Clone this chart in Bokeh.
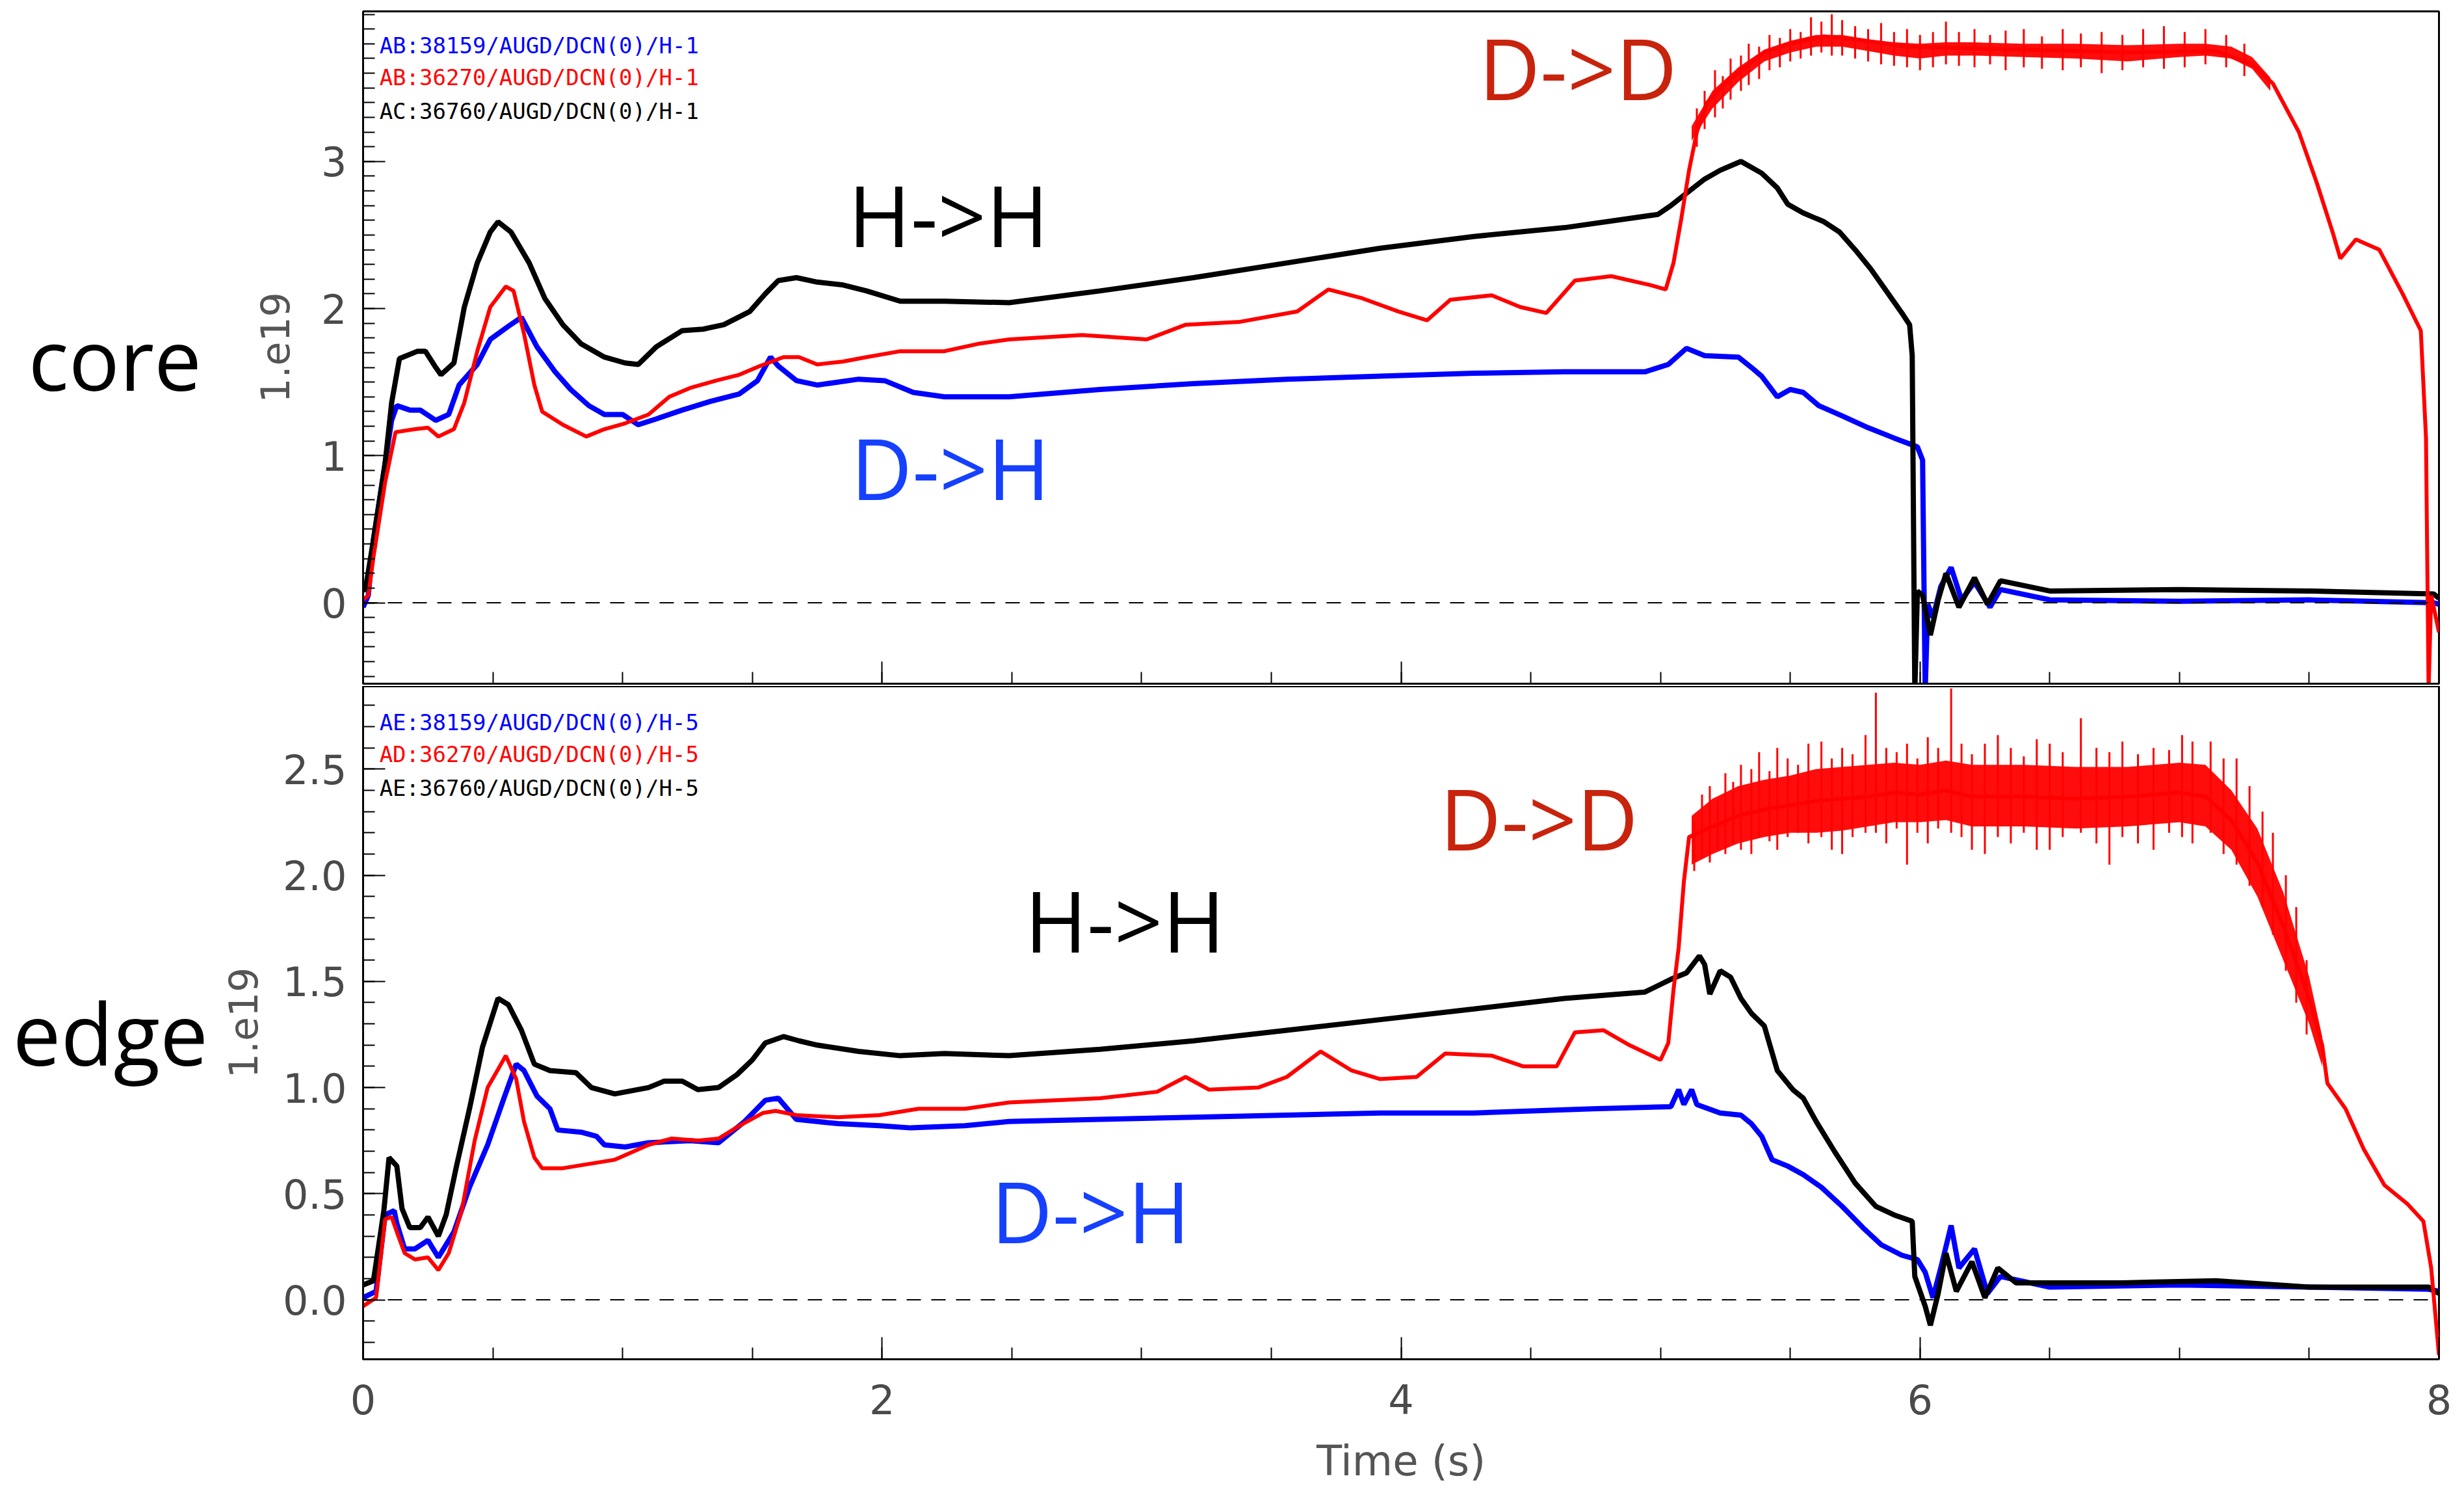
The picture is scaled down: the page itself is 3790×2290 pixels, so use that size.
from bokeh.plotting import figure
from bokeh.layouts import column, row
from bokeh.models import (Range1d, FixedTicker, Label, Span, PrintfTickFormatter,
                          CustomLabelingPolicy)
from bokeh.embed import file_html
from bokeh.resources import INLINE

# ---------------- data (units 1e19) ----------------
# CORE channel (H-1)
core_time_hh = [0.0, 0.01, 0.04, 0.085, 0.11, 0.14, 0.21, 0.24, 0.28, 0.30, 0.35, 0.39, 0.44, 0.49, 0.52,
                0.57, 0.64, 0.70, 0.77, 0.84, 0.93, 1.01, 1.06, 1.13, 1.23, 1.31, 1.39, 1.49, 1.55, 1.60,
                1.67, 1.75, 1.85, 1.94, 2.07, 2.24, 2.49, 2.84, 3.20, 3.56, 3.92, 4.28, 4.63, 4.99, 5.04,
                5.09, 5.17, 5.23, 5.31, 5.39, 5.45, 5.49, 5.55, 5.63, 5.69, 5.75, 5.81, 5.87, 5.93, 5.96,
                5.97, 5.98, 5.99, 6.01, 6.04, 6.07, 6.10, 6.15, 6.21, 6.26, 6.31, 6.50, 7.00, 7.50, 7.98, 8.0]
core_hh = [0.08, 0.10, 0.43, 0.95, 1.36, 1.66, 1.71, 1.71, 1.60, 1.55, 1.63, 2.01, 2.31, 2.52, 2.59,
           2.52, 2.31, 2.07, 1.89, 1.76, 1.67, 1.63, 1.62, 1.74, 1.85, 1.86, 1.89, 1.98, 2.10, 2.19,
           2.21, 2.18, 2.16, 2.12, 2.05, 2.05, 2.04, 2.12, 2.21, 2.31, 2.41, 2.49, 2.55, 2.64, 2.70,
           2.77, 2.88, 2.94, 3.00, 2.92, 2.82, 2.71, 2.65, 2.59, 2.52, 2.40, 2.27, 2.12, 1.97, 1.89,
           1.68, -0.6, 0.08, 0.05, -0.22, 0.02, 0.20, -0.03, 0.17, -0.01, 0.15, 0.08, 0.09, 0.08, 0.06, 0.03]

core_time_dd = [0.0, 0.02, 0.04, 0.085, 0.125, 0.20, 0.25, 0.29, 0.35, 0.39, 0.44, 0.49, 0.55, 0.58, 0.62,
                0.66, 0.69, 0.77, 0.86, 0.93, 1.01, 1.10, 1.18, 1.26, 1.36, 1.45, 1.53, 1.62, 1.68, 1.75,
                1.85, 1.94, 2.07, 2.24, 2.37, 2.49, 2.77, 3.02, 3.17, 3.38, 3.60, 3.72, 3.85, 3.99, 4.10,
                4.19, 4.35, 4.46, 4.56, 4.67, 4.81, 4.96, 5.02, 5.05, 5.08, 5.11, 5.14, 5.18, 5.25, 5.31,
                5.40, 5.50, 5.63, 5.75, 5.95, 6.15, 6.40, 6.80, 7.14, 7.28, 7.36, 7.46, 7.53, 7.59, 7.62,
                7.68, 7.77, 7.86, 7.93, 7.95, 7.96, 7.97, 8.0]
core_dd = [0.02, 0.05, 0.31, 0.82, 1.16, 1.18, 1.19, 1.13, 1.18, 1.36, 1.71, 2.01, 2.15, 2.12, 1.83,
           1.48, 1.30, 1.21, 1.13, 1.18, 1.22, 1.28, 1.40, 1.46, 1.51, 1.55, 1.61, 1.67, 1.67, 1.62,
           1.64, 1.67, 1.71, 1.71, 1.76, 1.79, 1.82, 1.79, 1.89, 1.91, 1.98, 2.13, 2.07, 1.98, 1.92,
           2.06, 2.09, 2.01, 1.97, 2.19, 2.22, 2.16, 2.13, 2.31, 2.61, 2.94, 3.20, 3.40, 3.53, 3.62,
           3.74, 3.80, 3.85, 3.83, 3.78, 3.77, 3.76, 3.74, 3.75, 3.66, 3.53, 3.20, 2.85, 2.52, 2.34,
           2.47, 2.40, 2.10, 1.85, 1.12, -0.6, 0.05, -0.2]

core_dd_band_t = [5.12, 5.2, 5.3, 5.4, 5.5, 5.6, 5.7, 5.8, 5.9, 6.0, 6.1, 6.2, 6.4, 6.6, 6.8, 7.0, 7.1, 7.2, 7.28, 7.35]
core_dd_band_hi = [3.24, 3.48, 3.64, 3.76, 3.82, 3.86, 3.86, 3.83, 3.81, 3.80, 3.81, 3.81, 3.80, 3.80, 3.79,
                   3.80, 3.80, 3.78, 3.71, 3.57]
core_dd_band_lo = [3.14, 3.36, 3.54, 3.68, 3.74, 3.78, 3.78, 3.75, 3.72, 3.70, 3.72, 3.72, 3.71, 3.70, 3.68,
                   3.71, 3.72, 3.70, 3.63, 3.48]
core_dd_spike_t = [5.14, 5.17, 5.21, 5.24, 5.27, 5.31, 5.34, 5.38, 5.42, 5.46, 5.50, 5.54, 5.58, 5.62,
                   5.66, 5.70, 5.75, 5.80, 5.85, 5.90, 5.95, 6.00, 6.05, 6.10, 6.15, 6.21, 6.27, 6.33,
                   6.40, 6.47, 6.55, 6.62, 6.70, 6.78, 6.86, 6.94, 7.02, 7.10, 7.18, 7.25]
core_dd_spike_hi = [3.36, 3.48, 3.62, 3.58, 3.70, 3.72, 3.80, 3.78, 3.86, 3.84, 3.90, 3.88, 3.98, 3.95,
                    4.00, 3.96, 3.92, 3.90, 3.94, 3.88, 3.90, 3.86, 3.88, 3.95, 3.88, 3.90, 3.86, 3.89,
                    3.90, 3.85, 3.90, 3.87, 3.88, 3.86, 3.90, 3.92, 3.88, 3.90, 3.86, 3.80]
core_dd_spike_lo = [3.10, 3.22, 3.30, 3.36, 3.42, 3.48, 3.52, 3.56, 3.62, 3.64, 3.68, 3.70, 3.72, 3.74,
                    3.72, 3.72, 3.70, 3.68, 3.66, 3.65, 3.64, 3.62, 3.64, 3.66, 3.65, 3.64, 3.66, 3.62,
                    3.64, 3.63, 3.62, 3.64, 3.60, 3.62, 3.64, 3.63, 3.64, 3.66, 3.64, 3.58]

core_time_dh = [0.0, 0.02, 0.04, 0.11, 0.13, 0.18, 0.22, 0.28, 0.33, 0.37, 0.44, 0.49, 0.56, 0.61, 0.67,
                0.74, 0.80, 0.87, 0.93, 1.00, 1.06, 1.13, 1.23, 1.34, 1.45, 1.52, 1.57, 1.60, 1.67, 1.75,
                1.91, 2.01, 2.12, 2.24, 2.49, 2.84, 3.20, 3.56, 3.92, 4.28, 4.63, 4.94, 5.03, 5.10, 5.17,
                5.30, 5.35, 5.39, 5.45, 5.50, 5.55, 5.61, 5.70, 5.80, 5.90, 5.99, 6.01, 6.02, 6.03, 6.05,
                6.08, 6.12, 6.16, 6.21, 6.27, 6.31, 6.50, 7.00, 7.50, 7.98, 8.0]
core_dh = [-0.03, 0.05, 0.43, 1.24, 1.34, 1.31, 1.31, 1.24, 1.28, 1.48, 1.62, 1.79, 1.88, 1.94, 1.74,
           1.57, 1.45, 1.34, 1.28, 1.28, 1.21, 1.25, 1.31, 1.37, 1.42, 1.51, 1.67, 1.61, 1.51, 1.48,
           1.52, 1.51, 1.43, 1.40, 1.40, 1.45, 1.49, 1.52, 1.54, 1.56, 1.57, 1.57, 1.62, 1.73, 1.68,
           1.67, 1.60, 1.54, 1.40, 1.45, 1.43, 1.34, 1.27, 1.19, 1.12, 1.06, 0.97, -0.6, -0.01, -0.10,
           0.11, 0.24, 0.02, 0.14, -0.03, 0.09, 0.02, 0.01, 0.02, 0.0, -0.01]

# EDGE channel (H-5)
edge_time_hh = [0.0, 0.04, 0.08, 0.10, 0.13, 0.15, 0.18, 0.22, 0.25, 0.29, 0.32, 0.36, 0.41, 0.46, 0.52,
                0.56, 0.61, 0.66, 0.72, 0.82, 0.88, 0.97, 1.10, 1.16, 1.23, 1.29, 1.37, 1.44, 1.50, 1.55,
                1.62, 1.68, 1.75, 1.91, 2.07, 2.24, 2.49, 2.84, 3.20, 3.56, 3.92, 4.28, 4.63, 4.94, 5.04,
                5.10, 5.15, 5.17, 5.19, 5.23, 5.27, 5.31, 5.35, 5.40, 5.45, 5.51, 5.55, 5.60, 5.67, 5.75,
                5.83, 5.90, 5.97, 5.98, 6.02, 6.04, 6.07, 6.10, 6.14, 6.20, 6.25, 6.30, 6.37, 6.78, 7.14,
                7.50, 7.96, 8.0]
edge_hh = [0.07, 0.09, 0.42, 0.67, 0.63, 0.43, 0.34, 0.34, 0.39, 0.30, 0.40, 0.63, 0.90, 1.19, 1.42,
           1.39, 1.27, 1.11, 1.08, 1.07, 1.00, 0.97, 1.00, 1.03, 1.03, 0.99, 1.00, 1.06, 1.13, 1.21,
           1.24, 1.22, 1.20, 1.17, 1.15, 1.16, 1.15, 1.18, 1.22, 1.27, 1.32, 1.37, 1.42, 1.45, 1.51,
           1.54, 1.62, 1.58, 1.44, 1.55, 1.52, 1.42, 1.35, 1.29, 1.08, 0.99, 0.95, 0.84, 0.70, 0.55,
           0.44, 0.40, 0.37, 0.11, -0.03, -0.12, 0.03, 0.22, 0.04, 0.18, 0.01, 0.15, 0.08, 0.08, 0.09,
           0.06, 0.06, 0.03]

edge_time_dd = [0.0, 0.05, 0.085, 0.11, 0.13, 0.16, 0.20, 0.25, 0.29, 0.33, 0.38, 0.43, 0.48, 0.55, 0.59,
                0.62, 0.66, 0.69, 0.77, 0.87, 0.97, 1.10, 1.19, 1.29, 1.37, 1.45, 1.54, 1.59, 1.67, 1.83,
                1.99, 2.14, 2.32, 2.49, 2.84, 3.06, 3.17, 3.26, 3.45, 3.56, 3.69, 3.81, 3.92, 4.06, 4.17,
                4.35, 4.47, 4.60, 4.67, 4.78, 4.88, 5.00, 5.03, 5.05, 5.07, 5.09, 5.11, 5.20, 5.30, 5.40,
                5.50, 5.60, 5.70, 5.80, 5.90, 6.00, 6.10, 6.20, 6.40, 6.60, 6.80, 7.00, 7.10, 7.20, 7.30,
                7.40, 7.50, 7.55, 7.57, 7.64, 7.71, 7.79, 7.88, 7.94, 7.97, 8.0]
edge_dd = [-0.03, 0.01, 0.38, 0.39, 0.32, 0.22, 0.19, 0.20, 0.14, 0.22, 0.42, 0.75, 1.00, 1.15, 1.04,
           0.84, 0.67, 0.62, 0.62, 0.64, 0.66, 0.73, 0.76, 0.75, 0.76, 0.82, 0.88, 0.89, 0.87, 0.86,
           0.87, 0.90, 0.90, 0.93, 0.95, 0.98, 1.05, 0.99, 1.00, 1.05, 1.17, 1.08, 1.04, 1.05, 1.16,
           1.15, 1.10, 1.10, 1.26, 1.27, 1.20, 1.13, 1.21, 1.46, 1.66, 1.97, 2.18, 2.23, 2.28, 2.31,
           2.33, 2.35, 2.36, 2.37, 2.39, 2.38, 2.40, 2.37, 2.37, 2.36, 2.37, 2.39, 2.37, 2.26, 2.06,
           1.76, 1.42, 1.20, 1.02, 0.90, 0.71, 0.54, 0.45, 0.37, 0.15, -0.26]

edge_dd_band_t = [5.12, 5.2, 5.3, 5.4, 5.5, 5.6, 5.7, 5.8, 5.9, 6.0, 6.1, 6.2, 6.4, 6.6, 6.8, 7.0, 7.1,
                  7.2, 7.3, 7.4, 7.5, 7.55]
edge_dd_band_hi = [2.28, 2.36, 2.42, 2.45, 2.47, 2.50, 2.51, 2.52, 2.53, 2.52, 2.54, 2.52, 2.52, 2.51, 2.51,
                   2.53, 2.52, 2.40, 2.22, 1.92, 1.52, 1.24]
edge_dd_band_lo = [2.05, 2.10, 2.15, 2.18, 2.20, 2.20, 2.21, 2.23, 2.25, 2.25, 2.26, 2.23, 2.23, 2.22, 2.23,
                   2.25, 2.23, 2.12, 1.90, 1.60, 1.30, 1.10]
edge_dd_spike_t = [5.13, 5.16, 5.19, 5.22, 5.25, 5.28, 5.31, 5.35, 5.38, 5.42, 5.45, 5.49, 5.53, 5.57,
                   5.62, 5.66, 5.70, 5.74, 5.79, 5.83, 5.87, 5.91, 5.95, 5.99, 6.03, 6.07, 6.12, 6.16,
                   6.20, 6.25, 6.30, 6.35, 6.40, 6.45, 6.50, 6.55, 6.62, 6.68, 6.73, 6.78, 6.84, 6.90,
                   6.96, 7.01, 7.05, 7.12, 7.17, 7.22, 7.27, 7.32, 7.36, 7.41, 7.45, 7.49]
edge_dd_spike_hi = [2.25, 2.38, 2.42, 2.35, 2.48, 2.44, 2.52, 2.50, 2.58, 2.49, 2.60, 2.55, 2.52, 2.62,
                    2.63, 2.55, 2.60, 2.57, 2.66, 2.86, 2.60, 2.58, 2.62, 2.55, 2.65, 2.60, 2.88, 2.62,
                    2.57, 2.62, 2.66, 2.60, 2.56, 2.64, 2.62, 2.58, 2.74, 2.60, 2.58, 2.63, 2.57, 2.60,
                    2.59, 2.66, 2.63, 2.63, 2.55, 2.55, 2.42, 2.30, 2.20, 2.00, 1.85, 1.60]
edge_dd_spike_lo = [2.02, 2.08, 2.06, 2.12, 2.10, 2.15, 2.12, 2.10, 2.18, 2.16, 2.12, 2.18, 2.20, 2.15,
                    2.18, 2.12, 2.10, 2.18, 2.20, 2.20, 2.15, 2.22, 2.05, 2.20, 2.15, 2.22, 2.20, 2.18,
                    2.12, 2.10, 2.18, 2.15, 2.20, 2.12, 2.12, 2.18, 2.20, 2.15, 2.05, 2.18, 2.15, 2.12,
                    2.20, 2.18, 2.15, 2.20, 2.10, 2.05, 1.95, 1.85, 1.72, 1.55, 1.40, 1.25]

edge_time_dh = [0.0, 0.05, 0.085, 0.12, 0.13, 0.16, 0.20, 0.25, 0.29, 0.35, 0.41, 0.48, 0.54, 0.59, 0.62,
                0.67, 0.72, 0.75, 0.84, 0.90, 0.93, 1.01, 1.10, 1.26, 1.37, 1.47, 1.55, 1.60, 1.67, 1.83,
                1.99, 2.11, 2.32, 2.49, 2.84, 3.20, 3.56, 3.92, 4.28, 4.74, 5.04, 5.07, 5.09, 5.12, 5.14,
                5.23, 5.31, 5.35, 5.39, 5.43, 5.49, 5.55, 5.62, 5.70, 5.78, 5.85, 5.93, 5.99, 6.02, 6.05,
                6.08, 6.12, 6.15, 6.21, 6.26, 6.31, 6.50, 7.00, 7.50, 7.96, 8.0]
edge_dh = [0.01, 0.04, 0.40, 0.42, 0.36, 0.24, 0.24, 0.28, 0.20, 0.32, 0.53, 0.73, 0.94, 1.11, 1.08,
           0.96, 0.90, 0.80, 0.79, 0.77, 0.73, 0.72, 0.74, 0.75, 0.74, 0.84, 0.94, 0.95, 0.85, 0.83,
           0.82, 0.81, 0.82, 0.84, 0.85, 0.86, 0.87, 0.88, 0.88, 0.90, 0.91, 0.99, 0.92, 0.99, 0.92,
           0.88, 0.87, 0.83, 0.77, 0.66, 0.63, 0.59, 0.53, 0.44, 0.34, 0.26, 0.21, 0.19, 0.13, 0.01,
           0.15, 0.35, 0.15, 0.24, 0.03, 0.11, 0.06, 0.07, 0.06, 0.05, 0.04]

# labels
core_legend = ["AB:38159/AUGD/DCN(0)/H-1", "AB:36270/AUGD/DCN(0)/H-1", "AC:36760/AUGD/DCN(0)/H-1"]
edge_legend = ["AE:38159/AUGD/DCN(0)/H-5", "AD:36270/AUGD/DCN(0)/H-5", "AE:36760/AUGD/DCN(0)/H-5"]
time_ticks = [0, 2, 4, 6, 8]
core_ticks = [0, 1, 2, 3]
edge_ticks = [0.0, 0.5, 1.0, 1.5, 2.0, 2.5]

BLUE = "#0000ff"
RED = "#ff0000"
BLACK = "#000000"
NOTE_BLUE = "#1640ff"
NOTE_RED = "#c8230c"
TICK_FONT = "DejaVu Sans"
NOTE_FONT = "Open Sans"

LEFT_W = 320            # side column holding the "core"/"edge" captions
MAIN_W = 3790 - LEFT_W
time_minor = [0.5 * i for i in range(17)]


def base_figure(height, yrange, top, bottom):
    p = figure(width=MAIN_W, height=height, output_backend="svg", toolbar_location=None,
               x_range=Range1d(0, 8), y_range=Range1d(*yrange),
               min_border_left=558 - LEFT_W, min_border_right=39,
               min_border_top=top, min_border_bottom=bottom)
    p.grid.visible = False
    p.outline_line_color = "black"
    p.outline_line_width = 3
    p.background_fill_color = "white"
    p.border_fill_color = "white"
    for ax in p.axis:
        ax.major_tick_in = 34
        ax.major_tick_out = 0
        ax.minor_tick_in = 18
        ax.minor_tick_out = 0
        ax.major_tick_line_width = 2
        ax.minor_tick_line_width = 2
        ax.major_tick_line_color = "black"
        ax.minor_tick_line_color = "black"
        ax.axis_line_width = 3
        ax.axis_line_color = "black"
        ax.major_label_text_font = TICK_FONT
        ax.major_label_text_font_size = "62px"
        ax.major_label_text_color = "#4a4a4a"
        ax.axis_label_text_font = TICK_FONT
        ax.axis_label_text_font_style = "normal"
        ax.axis_label_text_color = "#555555"
    p.xaxis.ticker = FixedTicker(ticks=time_ticks, minor_ticks=time_minor)
    p.yaxis.major_label_standoff = 25
    p.yaxis.axis_label = "1.e19"
    p.yaxis.axis_label_text_font_size = "60px"
    p.add_layout(Span(location=0, dimension="width", line_color="black",
                      line_width=2, line_dash="22 16"))
    return p


def side_figure(height, yrange, top, bottom):
    s = figure(width=LEFT_W, height=height, output_backend="svg", toolbar_location=None,
               x_range=Range1d(0, LEFT_W), y_range=yrange,
               x_axis_location=None, y_axis_location=None,
               min_border_left=0, min_border_right=0,
               min_border_top=top, min_border_bottom=bottom)
    s.grid.visible = False
    s.outline_line_color = None
    s.background_fill_color = "white"
    s.border_fill_color = "white"
    return s


def draw(p, t_dh, v_dh, t_hh, v_hh, t_dd, v_dd, band_t, band_lo, band_hi, sp_t, sp_lo, sp_hi):
    p.line(t_dh, v_dh, line_color=BLUE, line_width=8)
    p.line(t_hh, v_hh, line_color=BLACK, line_width=8)
    p.varea(x=band_t, y1=band_lo, y2=band_hi, fill_color=RED, fill_alpha=0.95)
    p.segment(x0=sp_t, y0=sp_lo, x1=sp_t, y1=sp_hi, line_color=RED, line_width=3)
    p.line(t_dd, v_dd, line_color=RED, line_width=6)


def note(p, x, y, text, color, size="130px", font=NOTE_FONT):
    p.add_layout(Label(x=x, y=y, text=text, text_color=color, text_font=font,
                       text_font_size=size, text_baseline="alphabetic"))


# ---------------- top: core ----------------
p1 = base_figure(1055, (-0.55, 4.02), 17, 2)
p1.xaxis.major_label_text_font_size = "1px"
p1.xaxis.major_label_standoff = 0
p1.xaxis.major_label_policy = CustomLabelingPolicy(
    code="for (const i of Array.from(indices)) { indices.unset(i) }\nreturn indices")
p1.yaxis.axis_label_standoff = 46
p1.yaxis.ticker = FixedTicker(ticks=core_ticks,
                              minor_ticks=[round(-0.5 + 0.1 * i, 2) for i in range(46)])
draw(p1, core_time_dh, core_dh, core_time_hh, core_hh, core_time_dd, core_dd,
     core_dd_band_t, core_dd_band_lo, core_dd_band_hi,
     core_dd_spike_t, core_dd_spike_lo, core_dd_spike_hi)

for txt, col, yy in zip(core_legend, [BLUE, RED, BLACK], [3.79, 3.57, 3.34]):
    p1.add_layout(Label(x=0.063, y=yy, text=txt, text_color=col, text_font="DejaVu Sans Mono",
                        text_font_size="34px", text_baseline="middle"))

note(p1, 1.87, 2.64, "H->H", BLACK)
note(p1, 1.88, 0.92, "D->H", NOTE_BLUE)
note(p1, 4.30, 3.64, "D->D", NOTE_RED)

s1 = side_figure(1055, p1.y_range, 17, 2)
note(s1, 43, 1.67, "core", BLACK, size="130px")

# ---------------- bottom: edge ----------------
p2 = base_figure(1235, (-0.28, 2.89), 0, 200)
p2.yaxis.axis_label_standoff = 36
p2.yaxis.ticker = FixedTicker(ticks=edge_ticks,
                              minor_ticks=[round(-0.2 + 0.1 * i, 2) for i in range(31)])
p2.yaxis.formatter = PrintfTickFormatter(format="%.1f")
p2.xaxis.axis_label = "Time (s)"
p2.xaxis.axis_label_text_font_size = "64px"
p2.xaxis.major_label_standoff = 38
p2.xaxis.axis_label_standoff = 32
draw(p2, edge_time_dh, edge_dh, edge_time_hh, edge_hh, edge_time_dd, edge_dd,
     edge_dd_band_t, edge_dd_band_lo, edge_dd_band_hi,
     edge_dd_spike_t, edge_dd_spike_lo, edge_dd_spike_hi)

for txt, col, yy in zip(edge_legend, [BLUE, RED, BLACK], [2.72, 2.57, 2.41]):
    p2.add_layout(Label(x=0.063, y=yy, text=txt, text_color=col, text_font="DejaVu Sans Mono",
                        text_font_size="34px", text_baseline="middle"))

note(p2, 4.15, 2.27, "D->D", NOTE_RED)
note(p2, 2.55, 1.79, "H->H", BLACK)
note(p2, 2.42, 0.42, "D->H", NOTE_BLUE)

s2 = side_figure(1235, p2.y_range, 0, 200)
note(s2, 19, 1.26, "edge", BLACK, size="132px")

layout = row(column(s1, s2, spacing=0), column(p1, p2, spacing=0), spacing=0)
open("out.html", "w").write(file_html(layout, INLINE))
